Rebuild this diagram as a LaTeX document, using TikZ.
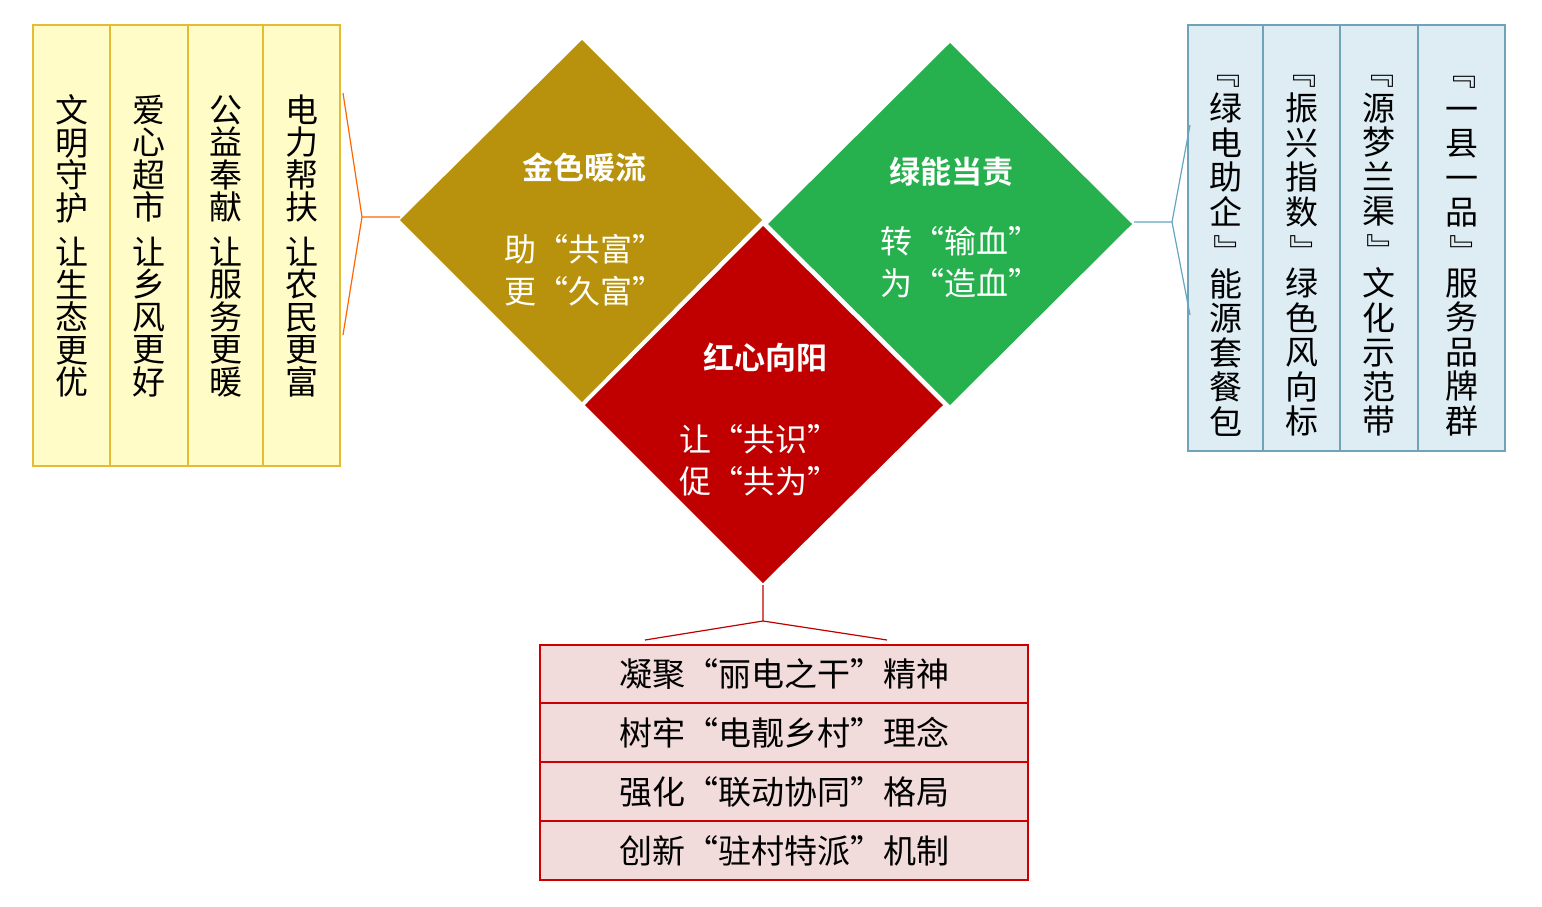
\documentclass[tikz,border=0pt]{standalone}
\usepackage{fontspec}
\usepackage{graphicx}
\setmainfont{Noto Sans CJK SC}[BoldFont={Noto Sans CJK SC Bold}]
\newcommand{\vlb}{\rotatebox[origin=c]{-90}{『}}
\newcommand{\vrb}{\rotatebox[origin=c]{-90}{』}}
\begin{document}
\begin{tikzpicture}[x=1pt,y=-1pt,
 ybox/.style={draw=yellow!50!brown!90!orange,line width=1.5pt,fill=yellow!22},
 bbox/.style={draw=cyan!40!gray,line width=1.5pt,fill=bfill},
 rbox/.style={draw=red!80!black,line width=1.5pt,fill=rfill},
 vtxt/.style={font=\fontsize{33}{32.5}\selectfont,align=center,inner sep=0pt},
 vtxtb/.style={font=\fontsize{33}{34.5}\selectfont,align=center,inner sep=0pt},
 dtitle/.style={font=\fontsize{31}{34}\selectfont\bfseries,text=white,align=center},
 dtxt/.style={font=\fontsize{32}{42}\selectfont,text=white,align=left},
 rtxt/.style={font=\fontsize{33}{34}\selectfont}]
\useasboundingbox (0,0) rectangle (1542,906);
\definecolor{gold}{HTML}{B8920C}
\definecolor{grn}{HTML}{27B04E}
\definecolor{rd}{HTML}{C00000}
\definecolor{bfill}{HTML}{DDEDF3}
\definecolor{rfill}{HTML}{F2DCDB}
% diamonds
\fill[gold] (400,220) -- (582,40) -- (762,220) -- (582,402) -- cycle;
\fill[grn] (768,224) -- (950,43) -- (1132,224) -- (950,405) -- cycle;
\fill[rd] (763,226) -- (943,405) -- (763,583) -- (585,405) -- cycle;
\coordinate (gl) at (400,217);
\coordinate (gr) at (1134,222);
\coordinate (rb) at (763,585);
\node[dtitle] (t1) at (584,168) {金色暖流};
\node[dtxt] (s1) at (584,270) {助“共富”\\更“久富”};
\node[dtitle] (t2) at (951,172) {绿能当责};
\node[dtxt] (s2) at (960,262) {转“输血”\\为“造血”};
\node[dtitle] (t3) at (765,358) {红心向阳};
\node[dtxt] (s3) at (759,460) {让“共识”\\促“共为”};
% left boxes
\foreach \xa/\xb/\t [count=\i] in {33/110/{文\\明\\守\\护\\[12pt]让\\生\\态\\更\\优},
  110/188/{爱\\心\\超\\市\\[12pt]让\\乡\\风\\更\\好},
  188/263/{公\\益\\奉\\献\\[12pt]让\\服\\务\\更\\暖},
  263/340/{电\\力\\帮\\扶\\[12pt]让\\农\\民\\更\\富}}{
  \draw[ybox] (\xa,25) rectangle (\xb,466);
  \node[vtxt] (L\i) at ({(\xa+\xb)/2},246) {\t};
}
% right boxes
\foreach \xa/\xb/\t [count=\i] in {1188/1263/{\vlb\\绿\\电\\助\\企\\\vrb\\能\\源\\套\\餐\\包},
  1263/1340/{\vlb\\振\\兴\\指\\数\\\vrb\\绿\\色\\风\\向\\标},
  1340/1418/{\vlb\\源\\梦\\兰\\渠\\\vrb\\文\\化\\示\\范\\带},
  1418/1505/{\vlb\\一\\县\\一\\品\\\vrb\\服\\务\\品\\牌\\群}}{
  \draw[bbox] (\xa,25) rectangle (\xb,451);
  \node[vtxtb] (R\i) at ({(\xa+\xb)/2},246) {\t};
}
% bottom table
\foreach \ya/\yb/\t [count=\i] in {645/703/凝聚“丽电之干”精神,703/762/树牢“电靓乡村”理念,762/821/强化“联动协同”格局,821/880/创新“驻村特派”机制}{
  \draw[rbox] (540,\ya) rectangle (1028,\yb);
  \node[rtxt] (B\i) at (784,{(\ya+\yb)/2}) {\t};
}
% connectors
\coordinate (la) at (362,217);
\coordinate (lt) at (343,93);
\coordinate (lb) at (343,335);
\draw[orange!80!red,line width=1.2pt] (lt) -- (la) -- (lb) (la) -- (gl);
\coordinate (ra) at (1172,222);
\coordinate (rt) at (1190,125);
\coordinate (rbt) at (1190,315);
\draw[cyan!50!gray,line width=1.2pt] (rt) -- (ra) -- (rbt) (ra) -- (gr);
\coordinate (ba) at (763,621);
\coordinate (bl) at (645,640);
\coordinate (br) at (887,640);
\draw[rd,line width=1.2pt] (rb) -- (ba) (bl) -- (ba) -- (br);
\end{tikzpicture}
\end{document}
